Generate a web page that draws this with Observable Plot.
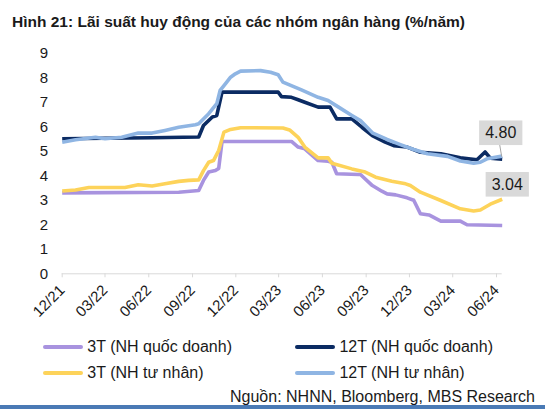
<!DOCTYPE html>
<html><head><meta charset="utf-8">
<script src="https://cdn.jsdelivr.net/npm/d3@7"></script>
<script src="https://cdn.jsdelivr.net/npm/@observablehq/plot@0.6"></script>
<style>
body{margin:0;background:#fff;}
#wrap{position:relative;width:545px;height:412px;overflow:hidden;font-family:"Liberation Sans",Arial,sans-serif;color:#1a1a1a;background:#fff;}
#title{position:absolute;left:12px;top:14px;font-weight:bold;font-size:15.5px;line-height:1;white-space:nowrap;}
#chart{position:absolute;left:0;top:32px;}
.leg{position:absolute;font-size:16px;line-height:16px;white-space:nowrap;display:flex;align-items:center;}
.sw{display:inline-block;width:40px;height:4px;border-radius:2px;margin-right:4px;}
#src{position:absolute;right:10px;top:389px;font-size:16px;line-height:1;white-space:nowrap;}
#bar{position:absolute;left:0;top:405px;width:545px;height:4px;background:#4a7ab5;}
</style></head>
<body>
<div id="wrap">
  <div id="title">Hình 21: Lãi suất huy động của các nhóm ngân hàng (%/năm)</div>
  <div id="chart"></div>
  <div id="legend"></div>
  <div id="src">Nguồn: NHNN, Bloomberg, MBS Research</div>
  <div id="bar"></div>
</div>
<script>
const seriesNames = ["3T (NH quốc doanh)", "12T (NH quốc doanh)", "3T (NH tư nhân)", "12T (NH tư nhân)"];
const seriesColors = ["#a893df", "#0b2b63", "#fdd35a", "#8fb5e3"];

const soe3Dates = ["2021-12-01","2022-08-03","2022-09-14","2022-09-24","2022-10-05","2022-10-19","2022-10-26","2022-11-02","2023-03-28","2023-04-11","2023-04-25","2023-05-23","2023-06-13","2023-06-21","2023-07-01","2023-08-16","2023-08-20","2023-09-14","2023-10-04","2023-10-15","2023-11-02","2023-11-26","2023-12-10","2023-12-24","2024-01-11","2024-02-05","2024-03-17","2024-03-31","2024-06-13"];
const soe3Values = [3.30,3.33,3.40,3.81,4.15,4.21,4.30,5.40,5.40,5.17,5.10,4.62,4.59,4.55,4.08,4.05,4.05,3.60,3.37,3.26,3.22,3.10,3.00,2.45,2.40,2.15,2.15,2.00,1.97];

const soe12Dates = ["2021-12-01","2022-03-01","2022-06-08","2022-09-14","2022-09-24","2022-10-12","2022-10-22","2022-11-02","2023-02-28","2023-03-07","2023-03-28","2023-04-11","2023-04-25","2023-05-23","2023-06-17","2023-07-01","2023-08-02","2023-08-23","2023-09-14","2023-10-11","2023-10-29","2023-11-26","2023-12-24","2024-02-05","2024-03-17","2024-04-21","2024-05-08","2024-05-19","2024-06-13"];
const soe12Values = [5.51,5.53,5.55,5.58,6.05,6.39,6.46,7.41,7.41,7.23,7.20,7.10,7.00,6.80,6.80,6.32,6.32,5.98,5.64,5.37,5.23,5.17,4.96,4.90,4.73,4.65,4.97,4.72,4.68];

const pvt3Dates = ["2021-12-01","2021-12-29","2022-01-26","2022-03-01","2022-04-12","2022-05-10","2022-06-08","2022-07-05","2022-08-03","2022-08-24","2022-09-14","2022-09-24","2022-10-05","2022-10-15","2022-10-26","2022-11-06","2022-11-20","2022-12-11","2023-03-10","2023-03-24","2023-04-11","2023-04-25","2023-05-23","2023-06-13","2023-06-21","2023-08-02","2023-08-30","2023-09-21","2023-10-25","2023-11-23","2023-12-03","2023-12-24","2024-02-05","2024-03-17","2024-04-14","2024-04-28","2024-05-19","2024-06-13"];
const pvt3Values = [3.38,3.42,3.52,3.52,3.52,3.63,3.58,3.67,3.77,3.81,3.83,4.21,4.55,4.62,5.03,5.78,5.89,5.96,5.95,5.87,5.57,5.17,4.73,4.73,4.51,4.28,4.15,3.94,3.78,3.67,3.60,3.33,2.99,2.65,2.56,2.60,2.84,3.04];

const pvt12Dates = ["2021-12-01","2021-12-29","2022-02-09","2022-03-01","2022-04-05","2022-05-10","2022-06-08","2022-07-05","2022-08-03","2022-09-07","2022-09-14","2022-10-05","2022-10-22","2022-10-29","2022-11-09","2022-11-20","2022-11-30","2022-12-11","2023-01-22","2023-02-12","2023-02-28","2023-03-10","2023-04-18","2023-05-23","2023-06-13","2023-07-05","2023-08-02","2023-08-20","2023-09-14","2023-10-15","2023-11-12","2023-12-10","2024-01-08","2024-02-19","2024-03-17","2024-04-14","2024-04-28","2024-05-12","2024-06-13"];
const pvt12Values = [5.37,5.47,5.57,5.51,5.57,5.74,5.74,5.85,5.98,6.08,6.12,6.53,6.94,7.48,7.75,8.02,8.16,8.27,8.29,8.22,8.12,7.82,7.50,7.20,7.07,6.80,6.46,6.25,5.75,5.48,5.27,5.07,4.90,4.79,4.60,4.51,4.55,4.69,4.80];

const xDomain = ["2021-12-01", "2024-06-13"];
const xTickDates = ["2021-12-01","2022-03-01","2022-06-01","2022-09-01","2022-12-01","2023-03-01","2023-06-01","2023-09-01","2023-12-01","2024-03-01","2024-06-01"];
const yTicks = [0,1,2,3,4,5,6,7,8,9];

const parse = d3.utcParse("%Y-%m-%d");
function series(name, dates, values) {
  return dates.map((d, i) => ({series: name, date: parse(d), value: values[i]}));
}
const allSeries = [
  series(seriesNames[0], soe3Dates, soe3Values),
  series(seriesNames[1], soe12Dates, soe12Values),
  series(seriesNames[2], pvt3Dates, pvt3Values),
  series(seriesNames[3], pvt12Dates, pvt12Values)
];
const data = allSeries.flat();
const last12 = allSeries[3][allSeries[3].length - 1];
const last3 = allSeries[2][allSeries[2].length - 1];
const fmt = d3.format(".2f");

const W = 545, H = 300, mL = 61.7, mR = 43.3, mT = 20.7, mB = 58.7;

const chart = Plot.plot({
  width: W, height: H,
  marginLeft: mL, marginRight: mR, marginTop: mT, marginBottom: mB,
  style: {fontFamily: "'Liberation Sans', Arial, sans-serif", fontSize: "15px", color: "#1a1a1a", background: "transparent", overflow: "visible"},
  x: {type: "utc", domain: xDomain.map(parse)},
  y: {domain: [0, 9]},
  color: {domain: seriesNames, range: seriesColors},
  marks: [
    Plot.ruleY([0], {stroke: "#d9d9d9", strokeWidth: 1}),
    Plot.axisX({ticks: xTickDates.map(parse), tickFormat: d3.utcFormat("%m/%y"), tickRotate: -45, tickSize: 4, tickPadding: 10, stroke: "#d9d9d9", fill: "#1a1a1a", fontSize: 15, label: null}),
    Plot.axisY({ticks: yTicks, tickSize: 0, tickPadding: 14, fill: "#1a1a1a", fontSize: 15, label: null}),
    Plot.line(data, {x: "date", y: "value", z: "series", stroke: "series", strokeWidth: 3.6, strokeLinejoin: "round", strokeLinecap: "butt"}),
    Plot.text([last12], {x: "date", y: "value", text: d => fmt(d.value), dx: -1.5, dy: -23, fontSize: 16, fill: "#1a1a1a"}),
    Plot.text([last3], {x: "date", y: "value", text: d => fmt(d.value), dx: 5, dy: -14.6, fontSize: 16, fill: "#1a1a1a"})
  ]
});
document.getElementById("chart").appendChild(chart);

// label boxes behind annotation texts, and leader line for 4.80
const xs = d3.scaleUtc().domain(xDomain.map(parse)).range([mL, W - mR]);
const ys = d3.scaleLinear().domain([0, 9]).range([H - mB, mT]);
const svgRect = chart.getBoundingClientRect();
const labels = [fmt(last12.value), fmt(last3.value)];
const ns = "http://www.w3.org/2000/svg";
chart.querySelectorAll("text").forEach(t => {
  const i = labels.indexOf(t.textContent);
  if (i < 0) return;
  const bb = t.getBBox();
  const r = document.createElementNS(ns, "rect");
  r.setAttribute("x", bb.x - 6);
  r.setAttribute("y", bb.y - 3.8);
  r.setAttribute("width", bb.width + 12);
  r.setAttribute("height", bb.height + 7.6);
  r.setAttribute("fill", "#d9d9d9");
  if (t.getAttribute("transform")) r.setAttribute("transform", t.getAttribute("transform"));
  t.parentNode.insertBefore(r, t);
  if (i === 0) {
    const rb = r.getBoundingClientRect();
    const l = document.createElementNS(ns, "line");
    l.setAttribute("x1", rb.left - svgRect.left + rb.width / 2 - 1);
    l.setAttribute("y1", rb.bottom - svgRect.top);
    l.setAttribute("x2", xs(last12.date));
    l.setAttribute("y2", ys(last12.value) + 1);
    l.setAttribute("stroke", "#a6a6a6");
    l.setAttribute("stroke-width", 1);
    chart.appendChild(l);
  }
});

// legend
const legend = document.getElementById("legend");
const legPos = [[43.3, 338.6], [295.4, 338.6], [43.3, 365.2], [295.4, 365.2]];
seriesNames.forEach((name, i) => {
  const it = document.createElement("div");
  it.className = "leg";
  it.style.left = legPos[i][0] + "px";
  it.style.top = legPos[i][1] + "px";
  const sw = document.createElement("span");
  sw.className = "sw";
  sw.style.background = seriesColors[i];
  it.appendChild(sw);
  it.appendChild(document.createTextNode(name));
  legend.appendChild(it);
});
</script>
</body></html>
